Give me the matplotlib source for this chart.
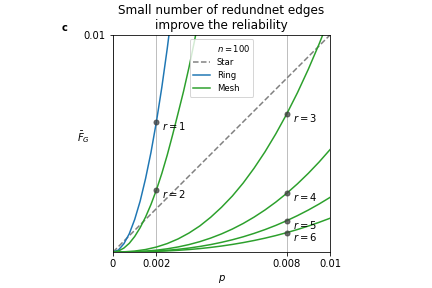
import numpy as np
import matplotlib
matplotlib.use("Agg")
import matplotlib.pyplot as plt

# failure probability
p_fine = [0, 0.00025, 0.0005, 0.00075, 0.001, 0.00125, 0.0015, 0.00175, 0.002,
          0.00225, 0.0025, 0.00275, 0.003, 0.00325, 0.0035, 0.00375, 0.004]
ring_F = [0, 0.00009, 0.00038, 0.00084, 0.0015, 0.00234, 0.00338, 0.00459, 0.0060,
          0.00759, 0.00938, 0.01134]
mesh_r2_F = [0, 0.000045, 0.00018, 0.0004, 0.000715, 0.00112, 0.00161, 0.00219, 0.00286,
             0.00362, 0.00447, 0.00541, 0.0064, 0.0074, 0.0085, 0.0097, 0.011]

p_coarse = [0, 0.0005, 0.001, 0.0015, 0.002, 0.0025, 0.003, 0.0035, 0.004, 0.0045, 0.005,
            0.0055, 0.006, 0.0065, 0.007, 0.0075, 0.008, 0.0085, 0.009, 0.0095, 0.01]
mesh_r3_F = [0, 0.0000082, 0.000043, 0.000114, 0.000228, 0.000389, 0.000603, 0.000873, 0.0012,
             0.0016, 0.00206, 0.00258, 0.00318, 0.00386, 0.00461, 0.00544, 0.00635,
             0.00734, 0.00842, 0.00959, 0.01085]
mesh_r4_F = [0, 0.0000026, 0.000015, 0.000041, 0.000084, 0.000147, 0.000233, 0.000342, 0.000477,
             0.000641, 0.000834, 0.001058, 0.001315, 0.001607, 0.001934, 0.002298, 0.0027,
             0.003142, 0.003625, 0.004149, 0.004717]
mesh_r5_F = [0, 0.0000014, 0.000008, 0.000022, 0.000045, 0.000079, 0.000124, 0.000182, 0.000255,
             0.000342, 0.000445, 0.000564, 0.000701, 0.000857, 0.001031, 0.001225, 0.00144,
             0.001676, 0.001933, 0.002213, 0.002516]
mesh_r6_F = [0, 0.0000009, 0.0000049, 0.0000135, 0.000028, 0.000049, 0.000077, 0.000113, 0.000157,
             0.000211, 0.000275, 0.000349, 0.000434, 0.00053, 0.000637, 0.000757, 0.00089,
             0.001036, 0.001195, 0.001368, 0.001555]

star_p = [0, 0.01]
star_F = [0, 0.01]

xticks = [0, 0.002, 0.008, 0.01]
xtick_labels = ["0", "0.002", "0.008", "0.01"]

# (p where the dot sits, which curve, label)
marked = [
    (0.002, "ring", "$r=1$"),
    (0.002, "r2", "$r=2$"),
    (0.008, "r3", "$r=3$"),
    (0.008, "r4", "$r=4$"),
    (0.008, "r5", "$r=5$"),
    (0.008, "r6", "$r=6$"),
]

curves = {
    "ring": (p_fine[:len(ring_F)], ring_F),
    "r2": (p_fine, mesh_r2_F),
    "r3": (p_coarse, mesh_r3_F),
    "r4": (p_coarse, mesh_r4_F),
    "r5": (p_coarse, mesh_r5_F),
    "r6": (p_coarse, mesh_r6_F),
}

fig = plt.figure(figsize=(6, 4), dpi=72)
ax = fig.add_axes([113 / 432, 36 / 288, 217 / 432, 217 / 288])

ax.plot([], [], " ", label="$n=100$")
ax.plot(star_p, star_F, "--", color="gray", lw=1.5, label="Star")
ax.plot(*curves["ring"], color="C0", lw=1.5, label="Ring")
for i, key in enumerate(["r2", "r3", "r4", "r5", "r6"]):
    ax.plot(*curves[key], color="C2", lw=1.5, label="Mesh" if i == 0 else None)

for p, key, lab in marked:
    xs, ys = curves[key]
    idx = int(np.argmin(np.abs(np.array(xs) - p)))
    ax.plot(xs[idx], ys[idx], "o", color="#404040", ms=5, alpha=0.75, zorder=4)
    ax.annotate(lab, (xs[idx], ys[idx]), xytext=(6, -4), textcoords="offset points",
                ha="left", va="center", fontsize=10)

ax.set_xlim(0, 0.01)
ax.set_ylim(0, 0.01)
ax.set_xticks(xticks)
ax.set_xticklabels(xtick_labels)
ax.set_yticks([0.01])
ax.set_yticklabels(["0.01"])
ax.grid(axis="x")
ax.set_xlabel("$p$")
ax.set_ylabel(r"$\bar{F}_G$", rotation=0, ha="center", va="center")
ax.yaxis.set_label_coords(-0.138, 0.53)
ax.set_title("Small number of redundnet edges\nimprove the reliability")
ax.legend(loc="upper center", fontsize=8.5)

fig.text(65 / 432, 1 - 28 / 288, "c", fontweight="bold", ha="center", va="center")

fig.savefig("out.png", dpi=72)
